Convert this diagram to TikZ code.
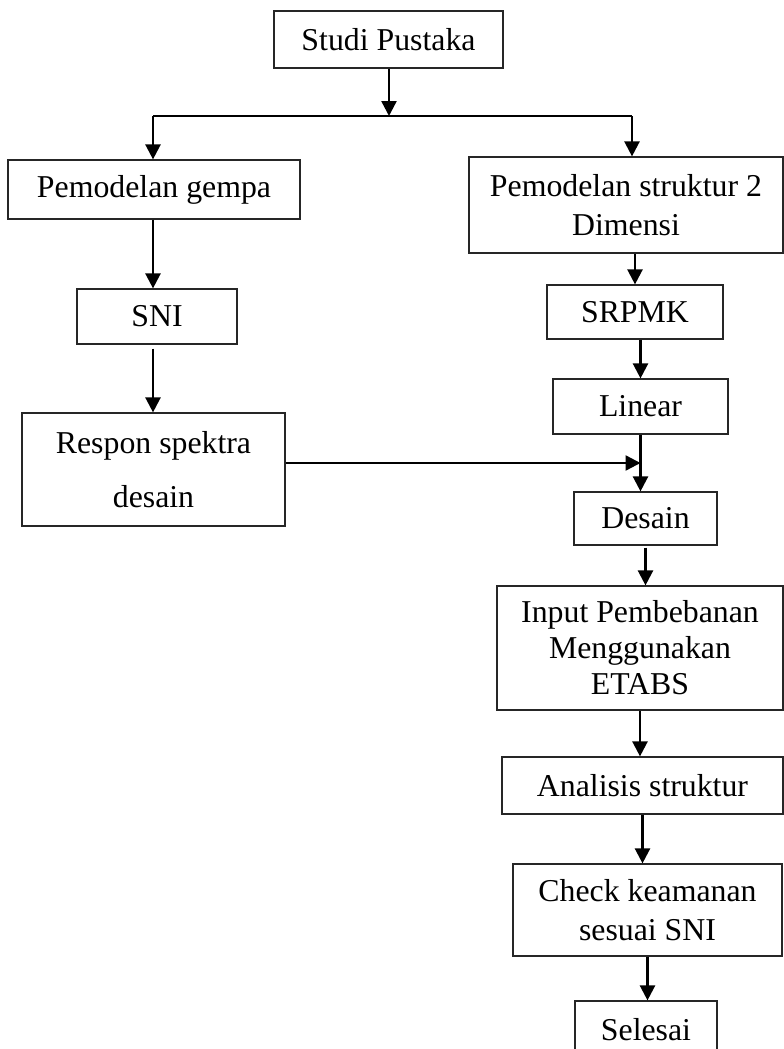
\documentclass[tikz,border=0pt]{standalone}
\usepackage{fontspec}
\setmainfont{Liberation Serif}
\usetikzlibrary{arrows.meta}
\begin{document}
\begin{tikzpicture}[x=1pt,y=-1pt,
  box/.style={draw=black!85,line width=1.2pt,inner sep=0pt,align=center,
    font=\fontsize{31.8}{36}\selectfont},
  arr/.style={line width=2.4pt,-{Triangle[length=15pt,width=15pt]}},
  ln/.style={line width=2.4pt}]
\useasboundingbox (0,0) rectangle (784,1049);
\clip (0,0) rectangle (784,1049);
\node[box,minimum width=229pt,minimum height=57pt] (studi) at (388.5,39.5) {Studi Pustaka};
\node[box,minimum width=292pt,minimum height=59pt] (gempa) at (154,189.5) {Pemodelan gempa};
\node[box,minimum width=314pt,minimum height=96pt,font=\fontsize{31.8}{39}\selectfont] (struk) at (626,205) {Pemodelan struktur 2\\Dimensi};
\node[box,minimum width=160pt,minimum height=55pt] (sni) at (157,316.5) {SNI};
\node[box,minimum width=176pt,minimum height=54pt] (srpmk) at (635,312) {SRPMK};
\node[box,minimum width=175pt,minimum height=55pt] (linear) at (640.5,406.5) {Linear};
\node[box,minimum width=263pt,minimum height=113pt,font=\fontsize{31.8}{54}\selectfont] (respon) at (153.5,469.5) {Respon spektra\\desain};
\node[box,minimum width=143pt,minimum height=53pt] (desain) at (645.5,518.5) {Desain};
\node[box,minimum width=286pt,minimum height=124pt] (input) at (640,648) {Input Pembebanan\\Menggunakan\\ETABS};
\node[box,minimum width=281pt,minimum height=57pt] (analisis) at (642.5,785.5) {Analisis struktur};
\node[box,minimum width=269pt,minimum height=92pt,font=\fontsize{31.8}{39}\selectfont] (check) at (647.5,910) {Check keamanan\\sesuai SNI};
\node[box,minimum width=142pt,minimum height=58pt] (selesai) at (646,1030) {Selesai};
\coordinate (jL) at (153,116);
\coordinate (jR) at (632,116);
\coordinate (jM) at (389,116);
\draw[arr] (studi.south -| jM) -- (jM);
\draw[ln] (jL) -- (jR);
\draw[arr] (jL) -- (jL |- gempa.north);
\draw[arr] (jR) -- (jR |- struk.north);
\draw[arr] (gempa.south -| jL) -- (jL |- sni.north);
\draw[arr] ([yshift=-4pt]sni.south -| jL) -- (jL |- respon.north);
\draw[arr] (struk.south -| srpmk.north) -- (srpmk.north);
\draw[arr] (srpmk.south -| linear.north) -- (linear.north);
\draw[arr] (linear.south) -- (linear.south |- desain.north);
\draw[arr] ([yshift=6.5pt]respon.east) -- ([yshift=6.5pt]respon.east -| linear.south);
\draw[arr] ([yshift=-2pt]desain.south) -- (desain.south |- input.north);
\draw[arr] (input.south) -- (input.south |- analisis.north);
\draw[arr] (analisis.south) -- (analisis.south |- check.north);
\draw[arr] (check.south) -- (check.south |- selesai.north);
\end{tikzpicture}
\end{document}
